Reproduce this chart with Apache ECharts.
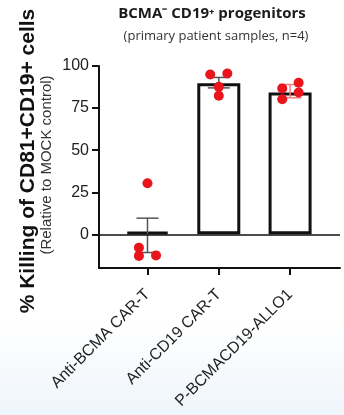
<!DOCTYPE html>
<html>
<head>
<meta charset="utf-8">
<script src="https://cdn.jsdelivr.net/npm/echarts@6/dist/echarts.min.js"></script>
<style>
  html, body { margin: 0; padding: 0; background: #fff; }
  #chart { width: 344px; height: 415px; }
</style>
</head>
<body>
<div id="chart"></div>
<script>
// groups on the x axis
const categories = ['Anti-BCMA CAR-T', 'Anti-CD19 CAR-T', 'P-BCMACD19-ALLO1'];
// bar heights (mean % killing)
const means = [1.5, 89.7, 84.3];
// error bar limits
const errLow = [-10.8, 87.0, 81.1];
const errHigh = [9.6, 93.2, 89.0];
// individual patient samples, one list per group
const samples = [
  [30.3, -7.9, -12.8, -12.5],
  [95.0, 95.5, 87.6, 82.3],
  [86.7, 90.0, 84.3, 80.2]
];
// horizontal jitter of each sample, in category units
const jitter = [
  [0, -0.12, -0.12, 0.12],
  [-0.12, 0.12, 0, 0],
  [-0.11, 0.12, 0.12, -0.11]
];
const yTicks = [0, 25, 50, 75, 100];

const errColors = ['#555555', '#555555', '#f27c7c'];

let points = [];
samples.forEach((list, i) => {
  list.forEach((v, j) => {
    points.push([i + jitter[i][j], v]);
  });
});

let myChart = echarts.init(document.getElementById('chart'));
myChart.setOption({
  animation: false,
  backgroundColor: new echarts.graphic.LinearGradient(0, 0, 0, 1, [
    { offset: 0, color: '#ffffff' },
    { offset: 0.78, color: '#ffffff' },
    { offset: 1, color: '#eef5fb' }
  ]),
  grid: {
    left: 99,
    right: 4,
    top: 66,
    bottom: 147
  },
  graphic: [
    {
      type: 'text',
      x: 212, y: 6,
      style: {
        text: 'BCMA\u207B CD19\u207A progenitors',
        font: 'bold 15px "Open Sans"',
        fill: '#1a1a1a',
        textAlign: 'center'
      }
    },
    {
      type: 'text',
      x: 216, y: 30,
      style: {
        text: '(primary patient samples, n=4)',
        font: '13px "Open Sans"',
        fill: '#333',
        textAlign: 'center'
      }
    },
    {
      type: 'text',
      x: 28, y: 161,
      rotation: Math.PI / 2,
      style: {
        text: '% Killing of CD81+CD19+ cells',
        font: 'bold 21px "Liberation Sans"',
        fill: '#111',
        textAlign: 'center',
        textVerticalAlign: 'middle'
      }
    },
    {
      type: 'text',
      x: 47, y: 165,
      rotation: Math.PI / 2,
      style: {
        text: '(Relative to MOCK control)',
        font: '15px "Liberation Sans"',
        fill: '#333',
        textAlign: 'center',
        textVerticalAlign: 'middle'
      }
    }
  ],
  xAxis: {
    type: 'value',
    min: -0.68,
    max: 2.7,
    splitLine: { show: false },
    axisLine: {
      onZero: false,
      lineStyle: { color: '#111', width: 2 }
    },
    axisTick: {
      customValues: [0, 1, 2],
      length: 7,
      lineStyle: { color: '#111', width: 2 }
    },
    axisLabel: {
      customValues: [0, 1, 2],
      formatter: (v) => categories[Math.round(v)],
      rotate: 45,
      margin: 24,
      fontFamily: 'Liberation Sans',
      fontSize: 16,
      color: '#222'
    }
  },
  yAxis: {
    type: 'value',
    min: -20,
    max: 100,
    splitLine: { show: false },
    axisLine: {
      show: true,
      onZero: false,
      lineStyle: { color: '#111', width: 2 }
    },
    axisTick: {
      show: true,
      customValues: yTicks,
      length: 7,
      lineStyle: { color: '#111', width: 2 }
    },
    axisLabel: {
      customValues: yTicks,
      margin: 10,
      fontFamily: 'Liberation Sans',
      fontSize: 16,
      color: '#222'
    }
  },
  series: [
    {
      type: 'bar',
      data: means.map((v, i) => [i, v]),
      barWidth: 43,
      itemStyle: {
        color: '#fff',
        borderColor: '#111',
        borderWidth: 3
      },
      z: 2,
      markLine: {
        silent: true,
        symbol: 'none',
        label: { show: false },
        lineStyle: { color: '#111', width: 1.5, type: 'solid' },
        data: [{ yAxis: 0 }]
      }
    },
    {
      type: 'custom',
      data: means.map((v, i) => [i, errLow[i], errHigh[i]]),
      z: 3,
      renderItem: (params, api) => {
        let x = api.value(0);
        let lo = api.coord([x, api.value(1)]);
        let hi = api.coord([x, api.value(2)]);
        let half = 11;
        let style = { stroke: errColors[params.dataIndex], lineWidth: 1.5 };
        return {
          type: 'group',
          children: [
            { type: 'line', shape: { x1: lo[0], y1: lo[1], x2: hi[0], y2: hi[1] }, style: style },
            { type: 'line', shape: { x1: lo[0] - half, y1: lo[1], x2: lo[0] + half, y2: lo[1] }, style: style },
            { type: 'line', shape: { x1: hi[0] - half, y1: hi[1], x2: hi[0] + half, y2: hi[1] }, style: style }
          ]
        };
      }
    },
    {
      type: 'scatter',
      data: points,
      symbolSize: 10,
      itemStyle: { color: '#e8161c', opacity: 1 },
      z: 4
    }
  ]
});
window.addEventListener('resize', () => {
  myChart.resize();
});
</script>
</body>
</html>
